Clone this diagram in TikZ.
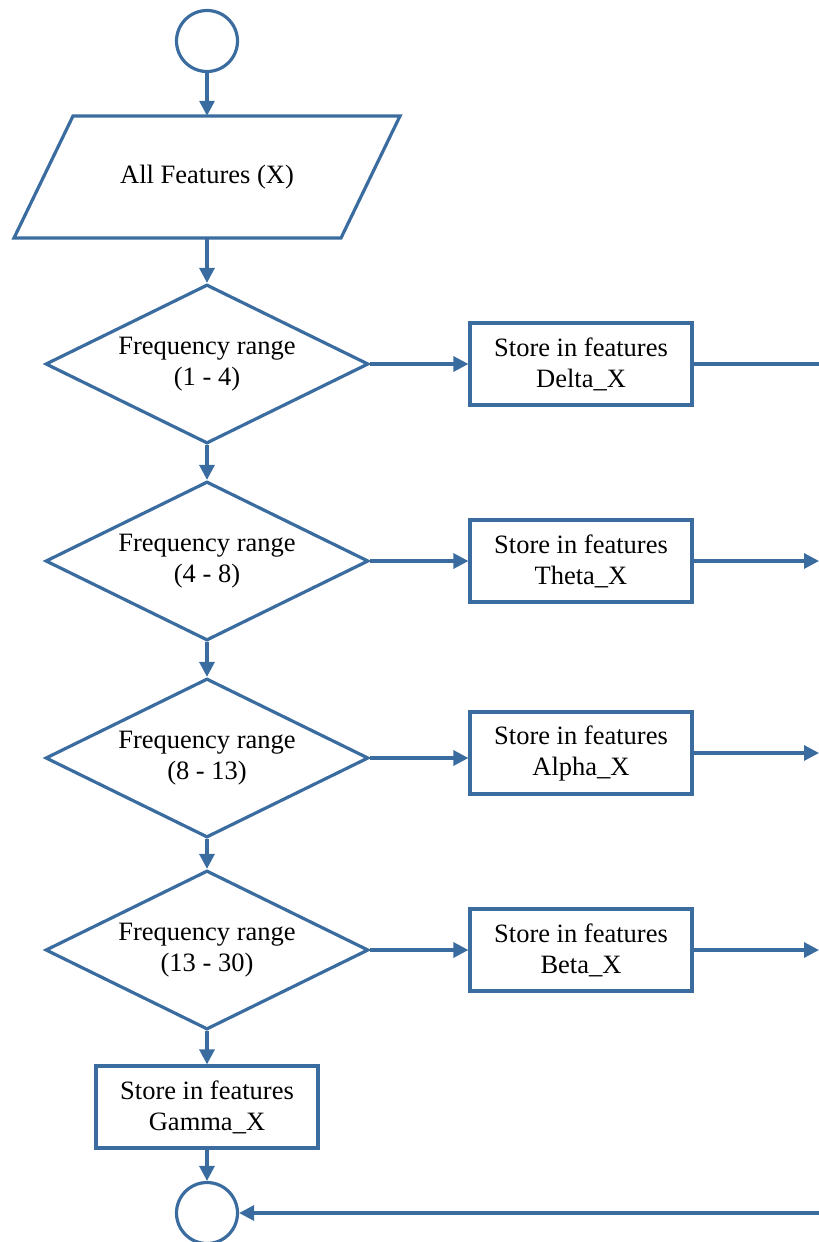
\documentclass[tikz,border=0pt]{standalone}
\usepackage{fontspec}
\setmainfont{Liberation Serif}
\usetikzlibrary{shapes.geometric,arrows.meta,calc}
\definecolor{flow}{RGB}{58,108,160}
\begin{document}
\begin{tikzpicture}[x=1pt,y=-1pt,
  every node/.style={font=\fontsize{26.5}{31}\selectfont, align=center, text=black},
  line/.style={draw=flow, line width=3.2pt},
  arr/.style={line, -{Triangle[length=15pt,width=15pt]}},
  term/.style={circle, draw=flow, line width=3.2pt, minimum size=61pt, inner sep=0pt},
  decision/.style={diamond, aspect=2.03, draw=flow, line width=3.2pt, minimum width=323pt, minimum height=159pt, inner sep=0pt},
  store/.style={rectangle, draw=flow, line width=3.2pt, minimum width=222pt, minimum height=82pt, inner sep=0pt}
]
\useasboundingbox (0,0) rectangle (819,1242);
% start
\node[term] (start) at (207,41) {};
% input parallelogram
\node[inner sep=0pt, minimum width=327pt, minimum height=122pt] (in) at (207,177) {All Features (X)};
\draw[line, line join=miter] (73,116) -- (400,116) -- (341,238) -- (14,238) -- cycle;
% decisions
\node[decision] (d1) at (207,364) {Frequency range\\(1 - 4)};
\node[decision] (d2) at (207,561) {Frequency range\\(4 - 8)};
\node[decision] (d3) at (207,758) {Frequency range\\(8 - 13)};
\node[decision] (d4) at (207,950) {Frequency range\\(13 - 30)};
% stores
\node[store] (b1) at (581,364) {Store in features\\Delta\_X};
\node[store] (b2) at (581,561) {Store in features\\Theta\_X};
\node[store] (b3) at (581,753) {Store in features\\Alpha\_X};
\node[store] (b4) at (581,950) {Store in features\\Beta\_X};
\node[store] (b5) at (207,1107) {Store in features\\Gamma\_X};
% end
\node[term] (end) at (207,1213) {};
% right edge coordinates
\coordinate (r1) at (819,364);
\coordinate (r2) at (819,561);
\coordinate (r3) at (819,753);
\coordinate (r4) at (819,950);
\coordinate (r5) at (819,1213);
% vertical flow
\draw[arr] (start) -- (in.north);
\draw[arr] (in.south) -- (d1);
\draw[arr] (d1) -- (d2);
\draw[arr] (d2) -- (d3);
\draw[arr] (d3) -- (d4);
\draw[arr] (d4) -- (b5);
\draw[arr] (b5) -- (end);
% horizontal
\draw[arr] (d1.east) -- (b1.west);
\draw[arr] (d2.east) -- (b2.west);
\draw[arr] (d3.east) -- (d3.east -| b3.west);
\draw[arr] (d4.east) -- (b4.west);
\draw[line] (b1.east) -- (r1);
\draw[arr] (b2.east) -- (r2);
\draw[arr] (b3.east) -- (r3);
\draw[arr] (b4.east) -- (r4);
\draw[arr] (r5) -- (end);
\end{tikzpicture}
\end{document}
